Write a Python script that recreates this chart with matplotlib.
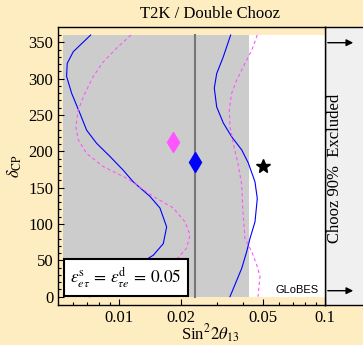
import matplotlib
matplotlib.use('Agg')
import matplotlib.pyplot as plt
import numpy as np

plt.rcParams['font.family'] = 'serif'
plt.rcParams['font.serif'] = ['Liberation Serif', 'DejaVu Serif']
plt.rcParams['mathtext.fontset'] = 'stix'

# contour boundaries: (delta_CP, sin^2 2theta13)
blue_left_d = [360, 337, 321, 303, 280, 252, 229, 211, 193, 174, 158, 138, 122, 96, 73, 57, 46, 23, 0]
blue_left_x = [0.00729, 0.00600, 0.00561, 0.00557, 0.00589, 0.00647, 0.00697, 0.00779, 0.00904,
               0.01049, 0.01173, 0.01414, 0.01581, 0.01704, 0.01641, 0.01467, 0.01265, 0.00925, 0.00723]
blue_right_d = [360, 330, 307, 287, 261, 239, 220, 202, 184, 158, 135, 103, 80, 62, 39, 0]
blue_right_x = [0.03485, 0.03209, 0.02981, 0.02902, 0.02981, 0.03209, 0.03524, 0.03942, 0.04243,
                0.04573, 0.04692, 0.04573, 0.04324, 0.04168, 0.03942, 0.03458]
mag_left_d = [360, 342, 323, 303, 280, 257, 234, 216, 197, 179, 163, 138, 122, 103, 85, 67, 46, 23, 0]
mag_left_x = [0.01144, 0.00975, 0.00839, 0.00750, 0.00684, 0.00634, 0.00618, 0.00634, 0.00697,
              0.00839, 0.01090, 0.01467, 0.01835, 0.02091, 0.02212, 0.02131, 0.01829, 0.01446, 0.01152]
mag_right_d = [360, 339, 321, 298, 280, 257, 234, 211, 181, 154, 122, 80, 62, 44, 28, 0]
mag_right_x = [0.04692, 0.04409, 0.04090, 0.03728, 0.03524, 0.03431, 0.03458, 0.03588, 0.03795,
               0.03942, 0.03986, 0.04090, 0.04409, 0.04660, 0.04837, 0.04729]

# best fit points
true_point = (0.05, 180)
fit_blue = (0.0234, 185)
fit_magenta = (0.0183, 213)

x_data_min = 0.00536
x_shade_max = 0.0428      # grey excluded region
x_vline = 0.0234
d_min, d_max = 0, 360
y_lo, y_hi = -11.4, 371

beige = '#FFEDC2'

fig = plt.figure(figsize=(3.63, 3.45), dpi=100)
fig.patch.set_facecolor(beige)

# side panel (drawn first, under the main axes)
side = fig.add_axes([325/363, 40/345, 0.2, 278/345])
side.set_facecolor('#F0F0F0')
side.set_xticks([])
side.set_yticks([])
side.spines['right'].set_visible(False)
for k in ['top', 'bottom', 'left']:
    side.spines[k].set_linewidth(1.0)
side.set_zorder(0)

ax = fig.add_axes([58/363, 40/345, 267/363, 278/345])
ax.set_zorder(1)
ax.set_facecolor(beige)
ax.set_xscale('log')
ax.set_xlim(0.00506, 0.1)
ax.set_ylim(y_lo, y_hi)

ax.fill_between([x_data_min, 0.1], d_min, d_max, color='white', lw=0, zorder=0)
ax.fill_between([x_data_min, x_shade_max], d_min, d_max, color='#CCCCCC', lw=0, zorder=0.5)
ax.plot([x_vline, x_vline], [d_min, d_max], color='#777777', lw=1.5, zorder=1)

ax.plot(blue_left_x, blue_left_d, color='#0000FF', lw=0.8, zorder=2)
ax.plot(blue_right_x, blue_right_d, color='#0000FF', lw=0.8, zorder=2)
ax.plot(mag_left_x, mag_left_d, color='#FF55FF', lw=0.8, ls=(0, (3, 2.5)), zorder=2)
ax.plot(mag_right_x, mag_right_d, color='#FF55FF', lw=0.8, ls=(0, (3, 2.5)), zorder=2)

ax.plot(*fit_magenta, marker='d', color='#FF55FF', ms=10, zorder=3)
ax.plot(*fit_blue, marker='d', color='#0000FF', ms=10, zorder=3)
ax.plot(*true_point, marker='*', color='black', ms=10, zorder=3)

ax.set_xticks([0.01, 0.02, 0.05, 0.1])
ax.set_xticklabels(['0.01', '0.02', '0.05', '0.1'])
ax.set_yticks(np.arange(0, 351, 50))
ax.set_yticks(np.arange(0, 361, 10), minor=True)
ax.tick_params(which='both', direction='in', top=False, right=False, labelsize=12, width=0.8)
ax.tick_params(which='major', length=4)
ax.tick_params(which='minor', length=2)
for s in ax.spines.values():
    s.set_linewidth(1.0)

ax.text(0.2547, 0.098, r'$\epsilon^{\rm s}_{e\tau}\, =\, \epsilon^{\rm d}_{\tau e}\, =\, 0.05$',
        transform=ax.transAxes, ha='center', va='center', fontsize=12.5, zorder=5,
        bbox=dict(boxstyle='square,pad=0.35', fc='white', ec='black', lw=1.5))
ax.text(0.975, 0.054, 'GLoBES', transform=ax.transAxes, ha='right', va='center',
        fontsize=8, family='Liberation Sans', zorder=5)

ax.set_ylabel(r'$\delta_{\rm CP}$', fontsize=12, labelpad=3)

fig.text(335/363, 1 - 168/345, 'Chooz 90%  Excluded', rotation=90, ha='center', va='center', fontsize=12)
for yp in [42.7, 290.7]:
    fig.add_artist(matplotlib.patches.FancyArrowPatch(
        (325/363, 1 - yp/345), (356/363, 1 - yp/345), transform=fig.transFigure,
        arrowstyle='-|>', mutation_scale=10, color='black', lw=1.0))

fig.text(210.5/363, 1 - 14/345, 'T2K / Double Chooz', ha='center', va='center', fontsize=12)
fig.text(210.5/363, 1 - 334/345, r'Sin$^2 2\theta_{13}$', ha='center', va='center', fontsize=12)

fig.savefig('out.png', dpi=100, facecolor=beige)
